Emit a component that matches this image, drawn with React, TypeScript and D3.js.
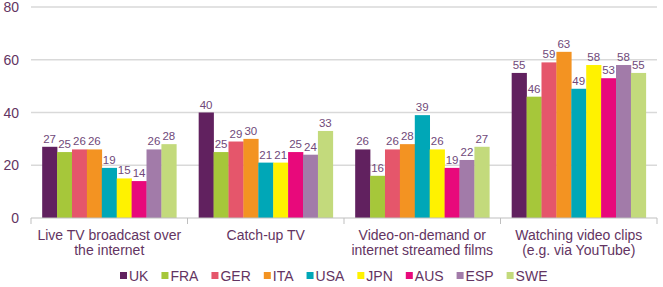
import React, { useEffect, useRef } from 'react';
import * as d3 from 'd3';

const categories = [
  ['Live TV broadcast over', 'the internet'],
  ['Catch-up TV'],
  ['Video-on-demand or', 'internet streamed films'],
  ['Watching video clips', '(e.g. via YouTube)'],
];
const countries = ['UK', 'FRA', 'GER', 'ITA', 'USA', 'JPN', 'AUS', 'ESP', 'SWE'];
const colors = ['#61215f', '#a6c73a', '#e5566b', '#f39322', '#00a7b7', '#fff200', '#e8097b', '#a27ba9', '#c3da7c'];
const liveTV = [27, 25, 26, 26, 19, 15, 14, 26, 28];
const catchUp = [40, 25, 29, 30, 21, 21, 25, 24, 33];
const vod = [26, 16, 26, 28, 39, 26, 19, 22, 27];
const clips = [55, 46, 59, 63, 49, 58, 53, 58, 55];
const yTicks = [0, 20, 40, 60, 80];

const series = [liveTV, catchUp, vod, clips];

const App: React.FC = () => {
  const ref = useRef<SVGSVGElement>(null);

  useEffect(() => {
    if (!ref.current) return;
    const width = 663;
    const height = 287;
    const m = { left: 31, right: 6, top: 7, bottom: 69 };
    const font = 'Liberation Sans, Arial, sans-serif';
    const textColor = '#633462';

    const svg = d3.select(ref.current).attr('width', width).attr('height', height);
    svg.selectAll('*').remove();

    const x = d3.scaleBand<number>()
      .domain(d3.range(categories.length))
      .range([m.left, width - m.right]);
    const xi = d3.scaleBand<number>()
      .domain(d3.range(countries.length))
      .range([0, x.bandwidth()])
      .paddingOuter(0.75);
    const y = d3.scaleLinear().domain([0, 80]).range([height - m.bottom, m.top]);

    // gridlines
    svg.append('g').selectAll('line')
      .data(yTicks.filter(t => t > 0))
      .enter().append('line')
      .attr('x1', m.left).attr('x2', width - m.right)
      .attr('y1', d => y(d)).attr('y2', d => y(d))
      .attr('stroke', '#d9d9d9').attr('stroke-width', 1.5);

    svg.append('g').selectAll('text')
      .data(yTicks)
      .enter().append('text')
      .attr('x', 19).attr('y', d => y(d) + 5)
      .attr('text-anchor', 'end')
      .attr('font-family', font).attr('font-size', 14)
      .attr('fill', textColor)
      .text(d => d);

    // bars
    const groups = svg.append('g').selectAll('g')
      .data(series)
      .enter().append('g')
      .attr('transform', (_, i) => `translate(${x(i)},0)`);

    groups.selectAll('rect')
      .data(d => d)
      .enter().append('rect')
      .attr('x', (_, j) => xi(j)!)
      .attr('width', xi.bandwidth() + 0.3)
      .attr('y', d => y(d))
      .attr('height', d => y(0) - y(d))
      .attr('fill', (_, j) => colors[j]);

    groups.selectAll('text')
      .data(d => d)
      .enter().append('text')
      .attr('x', (_, j) => xi(j)! + xi.bandwidth() / 2)
      .attr('y', d => y(d) - 4)
      .attr('text-anchor', 'middle')
      .attr('font-family', font).attr('font-size', 11.5)
      .attr('fill', '#70497a')
      .text(d => d);

    // x axis
    const y0 = y(0);
    svg.append('line')
      .attr('x1', m.left).attr('x2', width - m.right)
      .attr('y1', y0).attr('y2', y0)
      .attr('stroke', '#bfbfbf').attr('stroke-width', 1);
    svg.append('g').selectAll('line')
      .data(d3.range(categories.length + 1))
      .enter().append('line')
      .attr('x1', d => m.left + d * x.step()).attr('x2', d => m.left + d * x.step())
      .attr('y1', y0).attr('y2', y0 + 6)
      .attr('stroke', '#bfbfbf');

    const cat = svg.append('g').selectAll('text')
      .data(categories)
      .enter().append('text')
      .attr('x', (_, i) => x(i)! + x.bandwidth() / 2)
      .attr('y', 240)
      .attr('text-anchor', 'middle')
      .attr('font-family', font).attr('font-size', 14)
      .attr('fill', textColor);
    cat.selectAll('tspan')
      .data(d => d)
      .enter().append('tspan')
      .attr('x', function () { return (this.parentNode as SVGTextElement).getAttribute('x'); })
      .attr('dy', (_, k) => (k === 0 ? 0 : 15))
      .text(d => d);

    // legend
    const legend = svg.append('g');
    let lx = 120;
    countries.forEach((c, i) => {
      legend.append('rect')
        .attr('x', lx).attr('y', 272).attr('width', 7).attr('height', 7)
        .attr('fill', colors[i]);
      const t = legend.append('text')
        .attr('x', lx + 9).attr('y', 280.5)
        .attr('font-family', font).attr('font-size', 14)
        .attr('fill', textColor)
        .text(c);
      const w = (t.node() as SVGTextElement).getComputedTextLength();
      lx += 9 + w + 13;
    });
  }, []);

  return <svg ref={ref} style={{ position: 'absolute', left: 0, top: 0 }}></svg>;
};

export default App;
